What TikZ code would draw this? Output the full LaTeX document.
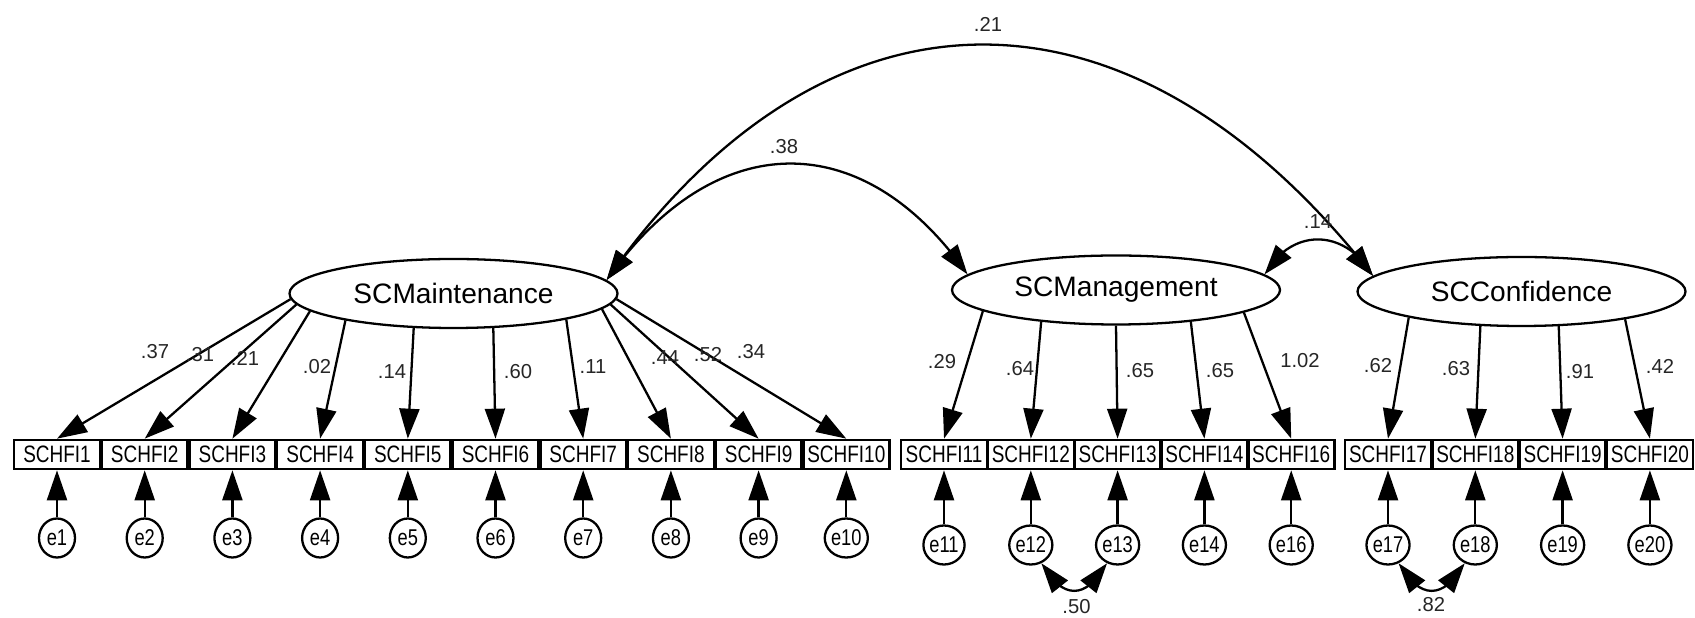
\documentclass[tikz,border=0pt]{standalone}
\usepackage{fontspec}
\setmainfont{Liberation Sans}
\newfontfamily\narrowfont{Liberation Sans}[FakeStretch=0.8]
\usetikzlibrary{shapes.geometric,arrows.meta,bending}

\begin{document}
\begin{tikzpicture}[
    >={Triangle[length=0.6cm,width=0.4cm]},
    latent/.style={draw, ellipse, line width=1.3pt, inner sep=0pt, minimum width=6.56cm, minimum height=1.38cm, font=\fontsize{16}{18}\selectfont},
    item/.style={draw, rectangle, line width=1.5pt, inner sep=0pt, minimum width=1.72cm, minimum height=0.58cm, font=\narrowfont\fontsize{13.5}{15}\selectfont},
    err/.style={draw, ellipse, line width=1.3pt, inner sep=0pt, minimum width=0.72cm, minimum height=0.78cm, font=\narrowfont\fontsize{13}{14}\selectfont},
    coef/.style={inner sep=1pt, text=black!85, font=\fontsize{11.5}{13}\selectfont},
    load/.style={->, line width=1.3pt},
    covar/.style={<->, line width=1.3pt}
]
    \useasboundingbox (0,0) rectangle (33.9,12.36);

    % factors
    \node[latent] (mai) at (9.07,6.49) {SCMaintenance};
    \node[latent] (man) at (22.32,6.56) {SCManagement};
    \node[latent] (con) at (30.43,6.53) {SCConfidence};

    % items
    \node[item] (x1) at (1.14,3.27) {SCHFI1};
    \node[item] (x2) at (2.894,3.27) {SCHFI2};
    \node[item] (x3) at (4.648,3.27) {SCHFI3};
    \node[item] (x4) at (6.402,3.27) {SCHFI4};
    \node[item] (x5) at (8.156,3.27) {SCHFI5};
    \node[item] (x6) at (9.91,3.27) {SCHFI6};
    \node[item] (x7) at (11.664,3.27) {SCHFI7};
    \node[item] (x8) at (13.418,3.27) {SCHFI8};
    \node[item] (x9) at (15.172,3.27) {SCHFI9};
    \node[item] (x10) at (16.926,3.27) {SCHFI10};

    \node[item] (x11) at (18.88,3.27) {SCHFI11};
    \node[item] (x12) at (20.616,3.27) {SCHFI12};
    \node[item] (x13) at (22.352,3.27) {SCHFI13};
    \node[item] (x14) at (24.088,3.27) {SCHFI14};
    \node[item] (x16) at (25.824,3.27) {SCHFI16};

    \node[item] (x17) at (27.76,3.27) {SCHFI17};
    \node[item] (x18) at (29.506,3.27) {SCHFI18};
    \node[item] (x19) at (31.252,3.27) {SCHFI19};
    \node[item] (x20) at (32.998,3.27) {SCHFI20};

    % error terms
    \node[err] (e1) at (1.14,1.60) {e1};
    \node[err] (e2) at (2.894,1.60) {e2};
    \node[err] (e3) at (4.648,1.60) {e3};
    \node[err] (e4) at (6.402,1.60) {e4};
    \node[err] (e5) at (8.156,1.60) {e5};
    \node[err] (e6) at (9.91,1.60) {e6};
    \node[err] (e7) at (11.664,1.60) {e7};
    \node[err] (e8) at (13.418,1.60) {e8};
    \node[err] (e9) at (15.172,1.60) {e9};
    \node[err] (e10) at (16.926,1.60) {e10};

    \node[err] (e11) at (18.88,1.46) {e11};
    \node[err] (e12) at (20.616,1.46) {e12};
    \node[err] (e13) at (22.352,1.46) {e13};
    \node[err] (e14) at (24.088,1.46) {e14};
    \node[err] (e16) at (25.824,1.46) {e16};

    \node[err] (e17) at (27.76,1.46) {e17};
    \node[err] (e18) at (29.506,1.46) {e18};
    \node[err] (e19) at (31.252,1.46) {e19};
    \node[err] (e20) at (32.998,1.46) {e20};

    % loadings
    \draw[load] (mai.182) -- (x1.north);
    \draw[load] (mai.184) -- (x2.north);
    \draw[load] (mai.187) -- (x3.north);
    \draw[load] (mai.194) -- (x4.north);
    \draw[load] (mai.221) -- (x5.north);
    \draw[load] (mai.319) -- (x6.north);
    \draw[load] (mai.347) -- (x7.north);
    \draw[load] (mai.354) -- (x8.north);
    \draw[load] (mai.356) -- (x9.north);
    \draw[load] (mai.358) -- (x10.north);

    \draw[load] (man.189.5) -- (x11.north);
    \draw[load] (man.203) -- (x12.north);
    \draw[load] (man.270) -- (x13.north);
    \draw[load] (man.337.5) -- (x14.north);
    \draw[load] (man.350.3) -- (x16.north);

    \draw[load] (con.193.7) -- (x17.north);
    \draw[load] (con.220.6) -- (x18.north);
    \draw[load] (con.317.1) -- (x19.north);
    \draw[load] (con.345.6) -- (x20.north);

    \node[coef] (w1) at (3.10,5.32) {.37};
    \node[coef] (w2) at (4.00,5.26) {.31};
    \node[coef] (w3) at (4.90,5.20) {.21};
    \node[coef] (w4) at (6.34,5.02) {.02};
    \node[coef] (w5) at (7.84,4.92) {.14};
    \node[coef] (w6) at (10.36,4.92) {.60};
    \node[coef] (w7) at (11.86,5.02) {.11};
    \node[coef] (w8) at (13.30,5.20) {.44};
    \node[coef] (w9) at (14.16,5.26) {.52};
    \node[coef] (w10) at (15.02,5.32) {.34};
    \node[coef] (w11) at (18.84,5.12) {.29};
    \node[coef] (w12) at (20.40,4.98) {.64};
    \node[coef] (w13) at (22.80,4.94) {.65};
    \node[coef] (w14) at (24.40,4.94) {.65};
    \node[coef] (w16) at (26.00,5.14) {1.02};
    \node[coef] (w17) at (27.56,5.04) {.62};
    \node[coef] (w18) at (29.12,4.98) {.63};
    \node[coef] (w19) at (31.60,4.92) {.91};
    \node[coef] (w20) at (33.20,5.04) {.42};

    % errors into items
    \foreach \i in {1,...,14,16,17,18,19,20}
        \draw[load] (e\i) -- (x\i);

    % correlations
    \draw[covar] (mai.5) to[out=55, in=125, distance=3.7cm] (man.174);
    \draw[covar] (mai.5) to[out=55, in=128, out distance=7.6cm, in distance=7.9cm] (con.174);
    \draw[covar] (man.6) to[out=60, in=120, distance=1.1cm] (con.174);
    \draw[covar] (e12.300) to[out=300, in=240, distance=0.85cm] (e13.240);
    \draw[covar] (e17.300) to[out=300, in=240, distance=0.85cm] (e18.240);

    \node[coef] (r1) at (19.76,11.88) {.21};
    \node[coef] (r2) at (15.68,9.42) {.38};
    \node[coef] (r3) at (26.36,7.92) {.14};
    \node[coef] (r4) at (21.53,0.23) {.50};
    \node[coef] (r5) at (28.62,0.26) {.82};
\end{tikzpicture}
\end{document}
